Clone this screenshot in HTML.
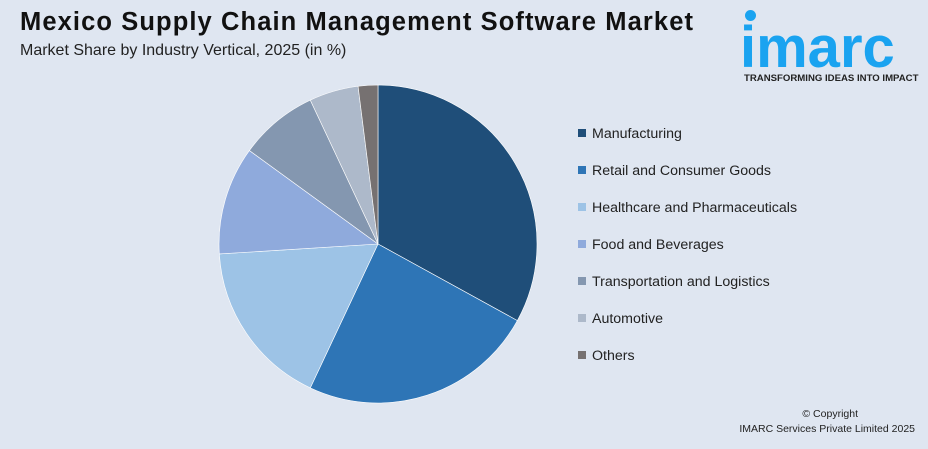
<!DOCTYPE html>
<html><head><meta charset="utf-8"><style>
body{margin:0;width:928px;height:449px;background:#dfe6f1;font-family:"Liberation Sans",sans-serif;position:relative;overflow:hidden}
.t{position:absolute;left:20px;top:8px;font-size:25.5px;font-weight:bold;color:#111;letter-spacing:1.1px;white-space:nowrap}
.s{position:absolute;left:20px;top:42px;font-size:16px;color:#222;white-space:nowrap}
.logo{position:absolute;left:740px;top:20px;font-size:58px;font-weight:bold;color:#1aa3f0;letter-spacing:0px;line-height:56px}
.dot{position:absolute;left:745px;top:10px;width:11px;height:11px;border-radius:50%;background:#1aa3f0}
.tag{position:absolute;left:744px;top:73px;font-size:9.6px;font-weight:bold;color:#222;white-space:nowrap}
.leg{position:absolute;left:578px;font-size:14.2px;color:#222;white-space:nowrap}
.leg i{display:inline-block;width:8px;height:8px;margin-right:6px;vertical-align:1px}
.c{position:absolute;right:13px;font-size:10.5px;color:#222;text-align:center;white-space:nowrap}
</style></head><body>
<div class="t">Mexico Supply Chain Management Software Market</div>
<div class="s">Market Share by Industry Vertical, 2025 (in %)</div>
<div class="dot"></div>
<div class="logo">imarc</div>
<div class="tag">TRANSFORMING IDEAS INTO IMPACT</div>
<svg id="pie" width="928" height="449" style="position:absolute;left:0;top:0"></svg>
<div id="legend"></div>
<div class="c" style="top:408px;right:70px">© Copyright</div>
<div class="c" style="top:423px">IMARC Services Private Limited 2025</div>
<script>
const categories=["Manufacturing","Retail and Consumer Goods","Healthcare and Pharmaceuticals","Food and Beverages","Transportation and Logistics","Automotive","Others"];
const shares=[33,24,17,11,8,5,2];
const colors=["#1f4e79","#2e75b6","#9dc3e6","#8faadc","#8497b0","#adb9ca","#767171"];
const svg=document.getElementById('pie');
const cx=378,cy=244,r=159;
const total=shares.reduce((a,b)=>a+b,0);
let a0=0;
function pt(a){return [cx+r*Math.sin(a),cy-r*Math.cos(a)];}
shares.forEach((v,i)=>{
 const a1=a0+v/total*2*Math.PI;
 const p0=pt(a0),p1=pt(a1);
 const path=document.createElementNS('http://www.w3.org/2000/svg','path');
 path.setAttribute('d',`M${cx},${cy}L${p0[0]},${p0[1]}A${r},${r} 0 ${a1-a0>Math.PI?1:0} 1 ${p1[0]},${p1[1]}Z`);
 path.setAttribute('fill',colors[i]);
 path.setAttribute('stroke','#fff');
 path.setAttribute('stroke-width','0.6');
 
 
 svg.appendChild(path);
 a0=a1;
});
const lg=document.getElementById('legend');
categories.forEach((c,i)=>{
 const d=document.createElement('div');
 d.className='leg';d.style.top=(126+i*37)+'px';
 d.innerHTML=`<i style="background:${colors[i]}"></i>${c}`;
 
 
 lg.appendChild(d);
});
</script>
</body></html>
